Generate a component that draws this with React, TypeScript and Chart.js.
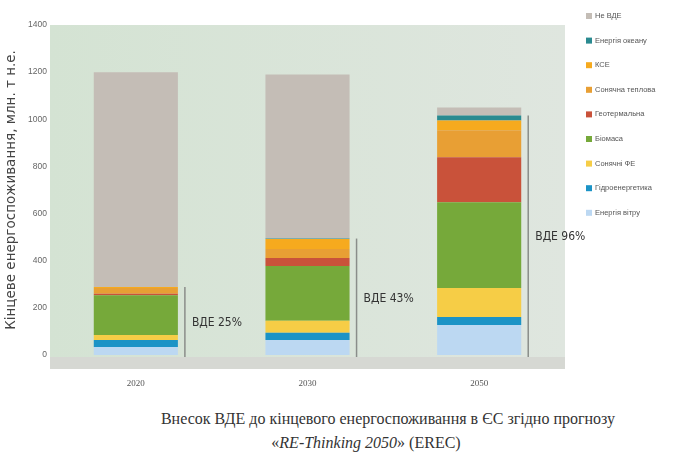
import React, { useEffect, useRef } from "react";
import { Chart, registerables } from "chart.js";

Chart.register(...registerables);

const categories = ["2020", "2030", "2050"];
const windValues = [34, 64, 127];
const hydroValues = [30, 30, 34];
const solarPvValues = [21, 51, 123];
const biomassValues = [169, 233, 364];
const geothermalValues = [6, 34, 191];
const solarThermalValues = [24, 38, 114];
const cspValues = [4, 42, 42];
const oceanValues = [0, 2, 21];
const nonResValues = [912, 696, 34];
const resShareLabels = ["ВДЕ 25%", "ВДЕ 43%", "ВДЕ 96%"];
const yTicks = [0, 200, 400, 600, 800, 1000, 1200, 1400];

const seriesNames = [
  "Енергія вітру",
  "Гідроенергетика",
  "Сонячні ФЕ",
  "Біомаса",
  "Геотермальна",
  "Сонячна теплова",
  "КСЕ",
  "Енергія океану",
  "Не ВДЕ",
];
const seriesValues = [
  windValues,
  hydroValues,
  solarPvValues,
  biomassValues,
  geothermalValues,
  solarThermalValues,
  cspValues,
  oceanValues,
  nonResValues,
];
const seriesColors = [
  "#bcd8f2",
  "#1b93c6",
  "#f6cd46",
  "#76a93a",
  "#c9523a",
  "#e89f34",
  "#f6aa1e",
  "#2a8a90",
  "#c4bdb6",
];

const bgPlugin = {
  id: "plotBg",
  beforeDraw(chart: any) {
    const { ctx, chartArea } = chart;
    const { left, right, top, bottom } = chartArea;
    ctx.save();
    const g = ctx.createLinearGradient(left, 0, right, 0);
    g.addColorStop(0, "#d4e3d3");
    g.addColorStop(1, "#dfe6df");
    ctx.fillStyle = g;
    ctx.fillRect(left, top, right - left, bottom - top + 14);
    ctx.fillStyle = "#d6d8d3";
    ctx.fillRect(left, bottom + 2, right - left, 12);
    ctx.restore();
  },
};

const annotPlugin = {
  id: "resAnnot",
  afterDatasetsDraw(chart: any) {
    const { ctx } = chart;
    const yScale = chart.scales.y;
    const lastRes = seriesValues.length - 2;
    const meta = chart.getDatasetMeta(lastRes);
    ctx.save();
    categories.forEach((_, i) => {
      const el = meta.data[i];
      if (!el) return;
      let total = 0;
      for (let d = 0; d <= lastRes; d++) total += seriesValues[d][i];
      const x = el.x + el.width / 2 + 7;
      const y0 = yScale.getPixelForValue(0) + 2;
      const y1 = yScale.getPixelForValue(total);
      ctx.strokeStyle = "#8a8d8a";
      ctx.lineWidth = 1.5;
      ctx.beginPath();
      ctx.moveTo(x, y0);
      ctx.lineTo(x, y1);
      ctx.stroke();
      ctx.fillStyle = "#333";
      ctx.font = "12px 'Liberation Sans Narrow', 'DejaVu Sans Condensed', 'Liberation Sans', sans-serif";
      ctx.textAlign = "left";
      ctx.textBaseline = "middle";
      ctx.fillText(resShareLabels[i], x + 7, (y0 + y1) / 2 + 1);
    });
    ctx.restore();
  },
};

const legendPlugin = {
  id: "sideLegend",
  afterDraw(chart: any) {
    const { ctx, chartArea } = chart;
    const x = chartArea.right + 21;
    ctx.save();
    ctx.font = "7.5px 'Liberation Sans Narrow', 'Liberation Sans', sans-serif";
    ctx.textAlign = "left";
    ctx.textBaseline = "middle";
    const n = seriesNames.length;
    for (let k = 0; k < n; k++) {
      const d = n - 1 - k;
      const y = 16 + k * 24.6;
      ctx.fillStyle = seriesColors[d];
      ctx.fillRect(x, y - 3, 6, 6);
      ctx.fillStyle = "#555";
      ctx.fillText(seriesNames[d], x + 9, y);
    }
    ctx.restore();
  },
};

export default function App() {
  const ref = useRef<HTMLCanvasElement | null>(null);
  useEffect(() => {
    if (!ref.current) return;
    const chart = new Chart(ref.current, {
      type: "bar",
      data: {
        labels: categories,
        datasets: seriesNames.map((name, i) => ({
          label: name,
          data: seriesValues[i],
          backgroundColor: seriesColors[i],
          borderWidth: 0,
          categoryPercentage: 1,
          barPercentage: 0.49,
        })),
      },
      options: {
        animation: false,
        responsive: false,
        maintainAspectRatio: false,
        layout: { padding: { top: 25, right: 116, left: 0, bottom: 0 } },
        plugins: {
          legend: { display: false },
          tooltip: { enabled: false },
        },
        scales: {
          x: {
            stacked: true,
            grid: { display: false, drawTicks: false },
            border: { display: false },
            ticks: {
              padding: 23,
              color: "#555",
              font: { size: 9, family: "'Liberation Serif', serif" },
            },
            afterFit: (s: any) => {
              s.height = 45;
            },
          },
          y: {
            stacked: true,
            min: 0,
            max: 1400,
            grid: { display: false, drawTicks: false },
            border: { display: false },
            afterBuildTicks: (s: any) => {
              s.ticks = yTicks.map((v) => ({ value: v }));
            },
            ticks: {
              padding: 3,
              color: "#666",
              font: { size: 8.5, family: "'Liberation Sans Narrow', 'Liberation Sans', sans-serif" },
              callback: (v: any) => String(v),
            },
            title: {
              display: true,
              text: "Кінцеве енергоспоживання, млн. т н.е.",
              color: "#444",
              font: { size: 13.5, family: "'DejaVu Sans', sans-serif" },
              padding: { top: 3, bottom: 0 },
            },
            afterFit: (s: any) => {
              s.width = 50;
            },
          },
        },
      },
      plugins: [bgPlugin, annotPlugin, legendPlugin],
    });
    return () => chart.destroy();
  }, []);

  return (
    <div style={{ position: "absolute", left: 0, top: 0, width: 681, height: 456, background: "#fff" }}>
      <canvas ref={ref} width={681} height={400} style={{ display: "block", width: 681, height: 400 }} />
      <div
        style={{
          position: "absolute",
          left: 88,
          top: 410,
          width: 600,
          textAlign: "center",
          fontFamily: "'Liberation Serif', 'Times New Roman', serif",
          fontSize: 16,
          color: "#333",
          whiteSpace: "nowrap",
        }}
      >
        Внесок ВДЕ до кінцевого енергоспоживання в ЄС згідно прогнозу
      </div>
      <div
        style={{
          position: "absolute",
          left: 216,
          top: 434,
          width: 300,
          textAlign: "center",
          fontFamily: "'Liberation Serif', 'Times New Roman', serif",
          fontSize: 16,
          color: "#333",
          whiteSpace: "nowrap",
        }}
      >
        «<i>RE-Thinking 2050</i>» (EREC)
      </div>
    </div>
  );
}
